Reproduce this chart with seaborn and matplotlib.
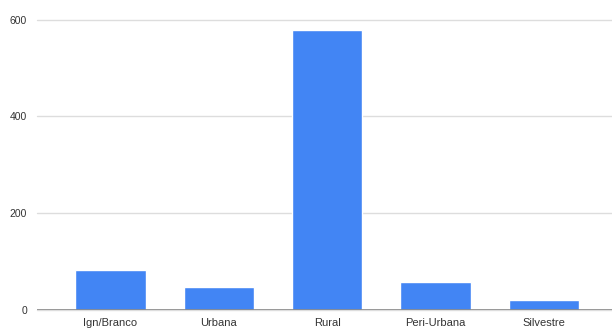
import matplotlib
matplotlib.use("Agg")
import matplotlib.pyplot as plt
import seaborn as sns
import pandas as pd

categories = ["Ign/Branco", "Urbana", "Rural", "Peri-Urbana", "Silvestre"]
values = [82, 48, 579, 57, 21]
y_ticks = [0, 200, 400, 600]

df = pd.DataFrame({"zona": categories, "casos": values})

sns.set_theme(style="white")
plt.rcParams["font.family"] = ["Liberation Sans", "DejaVu Sans"]

fig = plt.figure(figsize=(6.12, 3.29), dpi=100)
ax = fig.add_axes([0.060, 0.058, 0.940, 0.882])

sns.barplot(data=df, x="zona", y="casos", color="#4285F4", width=0.65,
            saturation=1, ax=ax, zorder=3)

ax.set_ylim(0, 600)
ax.set_xlim(-0.68, 4.63)
ax.set_yticks(y_ticks)
ax.set_yticklabels([str(v) for v in y_ticks])
ax.yaxis.grid(True, color="#dddddd", linewidth=1, zorder=0)
for gl in ax.get_ygridlines():
    gl.set_clip_on(False)
ax.axhline(0, color="#888888", linewidth=1.2, zorder=4)

for s in ax.spines.values():
    s.set_visible(False)
ax.set_xlabel("")
ax.set_ylabel("")
ax.tick_params(axis="both", length=0, colors="#333333")
ax.tick_params(axis="y", pad=7, labelsize=7.5)
ax.tick_params(axis="x", pad=5.5, labelsize=8)

fig.savefig("out.png", dpi=100)
